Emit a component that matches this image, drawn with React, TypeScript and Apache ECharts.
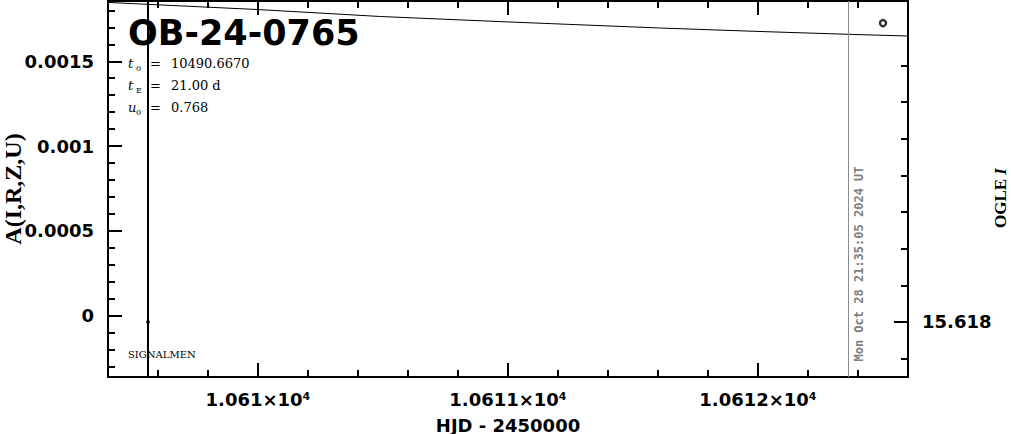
import React, { useEffect, useRef } from "react";
import * as echarts from "echarts";

// ---- data ----
const modelT = [10609.4, 10610.0, 10610.49, 10611.0, 10611.61, 10612.0, 10612.36, 10612.6];
const modelA = [0.001847, 0.001805, 0.001764, 0.001732, 0.001696, 0.001676, 0.001659, 0.001649];

const ogleT = [10609.56];
const ogleMag = [15.618];
const markerT = [10612.5];
const markerMag = [15.617184];

const lastObsT = 10609.56;
const nowT = 10612.361;
const nowLabel = "Mon Oct 28 21:35:05 2024 UT";

const eventName = "OB-24-0765";
const paramNames = ["t", "t", "u"];
const paramSubs = ["0", "E", "0"];
const paramValues = ["10490.6670", "21.00 d", "0.768"];

// ---- axes ----
const xMin = 10609.4;
const xMax = 10612.6;
const xMajor = [10610, 10611, 10612];
const xMajorLabels = ["1.061×10⁴", "1.0611×10⁴", "1.0612×10⁴"];
const xMinor = [10609.6, 10609.8, 10610.2, 10610.4, 10610.6, 10610.8, 10611.2, 10611.4, 10611.6, 10611.8, 10612.2, 10612.4];

const aMin = -0.0003628;
const aMax = 0.0018555;
const aMajor = [0, 0.0005, 0.001, 0.0015];
const aMajorLabels = ["0", "0.0005", "0.001", "0.0015"];
const aMinor = [-0.0003, -0.0002, -0.0001, 0.0001, 0.0002, 0.0003, 0.0004, 0.0006, 0.0007, 0.0008, 0.0009, 0.0011, 0.0012, 0.0013, 0.0014, 0.0016, 0.0017, 0.0018];

const magMin = 15.6171236;
const magMax = 15.6181502;
const magMajor = [15.618];
const magMajorLabels = ["15.618"];
const magMinor = [15.6173, 15.6174, 15.6175, 15.6176, 15.6177, 15.6178, 15.6179, 15.6181];

const SANS = "DejaVu Sans";
const SERIF = "Liberation Serif";
const DSERIF = "DejaVu Serif";

function labelOf(values: number[], labels: string[]) {
  return (v: number) => {
    for (let i = 0; i < values.length; i++) {
      if (Math.abs(values[i] - v) < 1e-9) return labels[i];
    }
    return "";
  };
}

const tickStyle = { color: "#000", width: 2 };
const labelFont = { color: "#000", fontFamily: SANS, fontWeight: "bold" as const, fontSize: 18 };

function xAxisDef(position: "top" | "bottom", major: boolean, withLabels: boolean) {
  return {
    type: "value",
    position,
    offset: 0,
    min: xMin,
    max: xMax,
    axisLine: { show: false, onZero: false },
    splitLine: { show: false },
    axisTick: { show: true, inside: true, length: major ? 14 : 7, customValues: major ? xMajor : xMinor, lineStyle: tickStyle },
    axisLabel: withLabels
      ? { show: true, customValues: xMajor, formatter: labelOf(xMajor, xMajorLabels), margin: 13, ...labelFont }
      : { show: false },
    ...(withLabels
      ? {
          name: "HJD - 2450000",
          nameLocation: "middle",
          nameGap: 39,
          nameTextStyle: { color: "#000", fontFamily: SANS, fontWeight: "bold", fontSize: 18 },
        }
      : {}),
  };
}

function yAxisDef(
  position: "left" | "right",
  min: number,
  max: number,
  inverse: boolean,
  ticks: number[],
  len: number,
  labelVals: number[] | null,
  labels: string[] | null
) {
  return {
    type: "value",
    position,
    offset: 0,
    min,
    max,
    inverse,
    axisLine: { show: false, onZero: false },
    splitLine: { show: false },
    axisTick: { show: true, inside: true, length: len, customValues: ticks, lineStyle: tickStyle },
    axisLabel:
      labelVals && labels
        ? { show: true, customValues: labelVals, formatter: labelOf(labelVals, labels), margin: 14, ...labelFont }
        : { show: false },
  };
}

const paramRowsY = [63, 85, 107];

const graphics: any[] = [
  {
    type: "text",
    x: 128,
    y: 33,
    style: { text: eventName, fill: "#000", fontFamily: SANS, fontWeight: "bold", fontSize: 35, align: "left", verticalAlign: "middle" },
  },
  {
    type: "text",
    x: 128,
    y: 354,
    style: { text: "SIGNALMEN", fill: "#000", fontFamily: DSERIF, fontSize: 10, align: "left", verticalAlign: "middle" },
  },
  {
    type: "text",
    x: 13,
    y: 189,
    rotation: Math.PI / 2,
    style: { text: "A(I,R,Z,U)", fill: "#000", fontFamily: SERIF, fontWeight: "bold", fontSize: 24, align: "center", verticalAlign: "middle" },
  },
  {
    type: "text",
    x: 1000,
    y: 198,
    rotation: Math.PI / 2,
    style: {
      text: "{a|OGLE }{b|I}",
      align: "center",
      verticalAlign: "middle",
      rich: {
        a: { fill: "#000", fontFamily: SERIF, fontWeight: "bold", fontSize: 17 },
        b: { fill: "#000", fontFamily: SERIF, fontWeight: "bold", fontStyle: "italic", fontSize: 17 },
      },
    },
  },
  {
    type: "text",
    x: 859,
    y: 264,
    rotation: Math.PI / 2,
    style: { text: nowLabel, fill: "#808080", fontFamily: "DejaVu Sans Mono", fontWeight: "bold", fontSize: 12, align: "center", verticalAlign: "middle" },
  },
];

paramNames.forEach((n, i) => {
  const y = paramRowsY[i];
  graphics.push(
    { type: "text", x: 128, y, style: { text: n, fill: "#000", fontFamily: DSERIF, fontStyle: "italic", fontSize: 13, align: "left", verticalAlign: "middle" } },
    { type: "text", x: 136, y: y + 5, style: { text: paramSubs[i], fill: "#000", fontFamily: DSERIF, fontSize: 8, align: "left", verticalAlign: "middle" } },
    { type: "text", x: 150, y, style: { text: "=", fill: "#000", fontFamily: DSERIF, fontSize: 13, align: "left", verticalAlign: "middle" } },
    { type: "text", x: 171, y, style: { text: paramValues[i], fill: "#000", fontFamily: DSERIF, fontSize: 13, align: "left", verticalAlign: "middle" } }
  );
});

const option: any = {
  animation: false,
  backgroundColor: "#fff",
  grid: {
    left: 108,
    top: 1,
    width: 800,
    height: 376,
    show: true,
    borderColor: "#000",
    borderWidth: 2,
    backgroundColor: "transparent",
    containLabel: false,
    outerBoundsMode: "none",
  },
  xAxis: [xAxisDef("bottom", true, true), xAxisDef("bottom", false, false), xAxisDef("top", true, false), xAxisDef("top", false, false)],
  yAxis: [
    yAxisDef("left", aMin, aMax, false, aMajor, 14, aMajor, aMajorLabels),
    yAxisDef("left", aMin, aMax, false, aMinor, 7, null, null),
    yAxisDef("right", magMin, magMax, true, magMajor, 14, magMajor, magMajorLabels),
    yAxisDef("right", magMin, magMax, true, magMinor, 7, null, null),
  ],
  series: [
    {
      type: "line",
      name: "model",
      xAxisIndex: 0,
      yAxisIndex: 0,
      data: modelT.map((t, i) => [t, modelA[i]]),
      symbol: "none",
      showSymbol: false,
      lineStyle: { color: "#000", width: 1 },
      silent: true,
    },
    {
      type: "scatter",
      name: "OGLE I",
      xAxisIndex: 0,
      yAxisIndex: 2,
      data: ogleT.map((t, i) => [t, ogleMag[i]]),
      symbol: "circle",
      symbolSize: 4,
      itemStyle: { color: "#000" },
      silent: true,
      z: 5,
      markLine: {
        silent: true,
        symbol: ["none", "none"],
        label: { show: false },
        data: [
          { xAxis: lastObsT, lineStyle: { color: "#000", width: 2, type: "solid" } },
          { xAxis: nowT, lineStyle: { color: "#8c8c8c", width: 1, type: "solid" } },
        ],
      },
    },
    {
      type: "scatter",
      name: "marker",
      xAxisIndex: 0,
      yAxisIndex: 2,
      data: markerT.map((t, i) => [t, markerMag[i]]),
      symbol: "circle",
      symbolSize: 6,
      itemStyle: { color: "#fff", borderColor: "#000", borderWidth: 2.5 },
      silent: true,
    },
  ],
  graphic: graphics,
};

export default function App() {
  const ref = useRef<HTMLDivElement>(null);
  useEffect(() => {
    const chart = echarts.init(ref.current!, null, { renderer: "svg" });
    chart.setOption(option);
    return () => chart.dispose();
  }, []);
  return <div ref={ref} style={{ position: "fixed", left: 0, top: 0, width: 1011, height: 434, background: "#fff" }} />;
}
